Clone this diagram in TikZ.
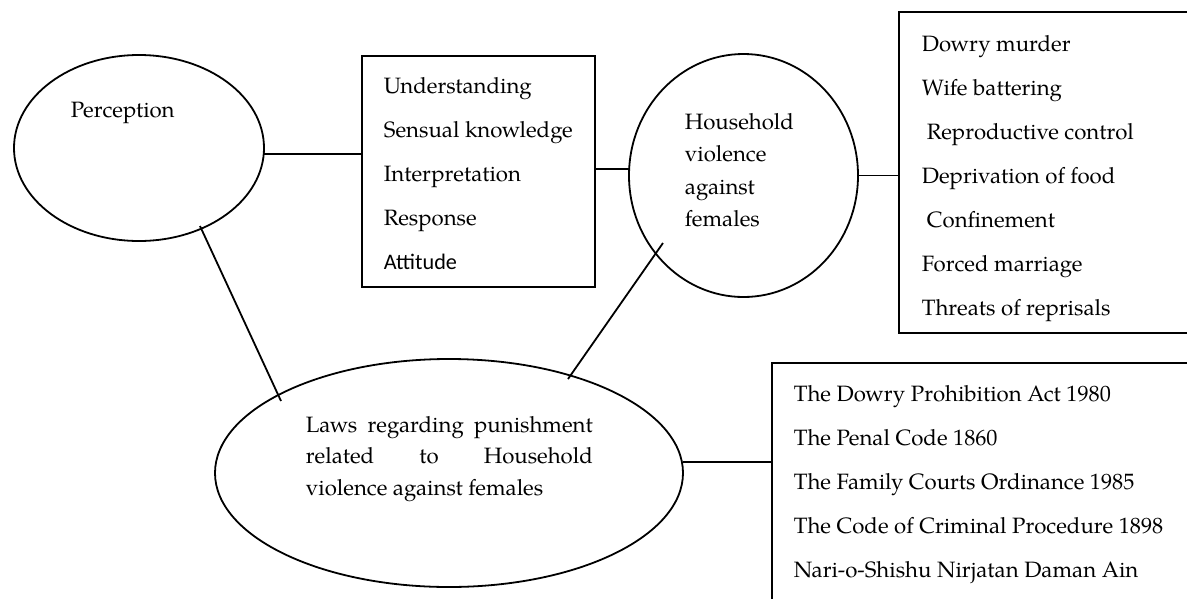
\documentclass[tikz,border=0pt]{standalone}
\usepackage{fontspec}
\setmainfont{TeX Gyre Pagella}
\newfontfamily\attfont{Carlito}
\usetikzlibrary{shapes.geometric,calc}
\begin{document}
\begin{tikzpicture}[x=1pt,y=-1pt, line width=1.8pt,
  ell/.style={draw, ellipse, inner sep=0pt, outer sep=0pt},
  bx/.style={draw, rectangle, inner sep=0pt, outer sep=0pt, anchor=north west},
  txt/.style={anchor=base west, inner sep=0pt, font=\fontsize{22.2}{27}\selectfont}]
\clip (0,0) rectangle (1187,598);
\fill[white] (0,0) rectangle (1187,598);
% shapes
\node[ell, minimum width=250pt, minimum height=186pt] (perc) at (139,148) {};
\node[bx, minimum width=233pt, minimum height=231pt] (box1) at (362,56) {};
\node[ell, minimum width=229pt, minimum height=243pt] (hh) at (743.5,175.5) {};
\node[bx, minimum width=320pt, minimum height=321pt] (box2) at (899,12) {};
\node[ell, minimum width=468pt, minimum height=228pt] (laws) at (449,473) {};
\node[bx, minimum width=440pt, minimum height=260pt] (box3) at (772,363) {};
% texts
\node[txt] (tperc) at (70,117) {Perception};
\node[txt] (u1) at (383,93) {Understanding};
\node[txt] (u2) at (383,137) {Sensual knowledge};
\node[txt] (u3) at (383,181) {Interpretation};
\node[txt] (u4) at (383,225) {Response};
\node[txt] (u5) at (383,269) {\attfont Attitude};
\node[txt] (h1) at (684,129) {Household};
\node[txt] (h2) at (684,161.5) {violence};
\node[txt] (h3) at (684,194) {against};
\node[txt] (h4) at (684,226.5) {females};
\node[txt] (v1) at (921,51) {Dowry murder};
\node[txt] (v2) at (921,95) {Wife battering};
\node[txt] (v3) at (926,139) {Reproductive control};
\node[txt] (v4) at (921,183) {Deprivation of food};
\node[txt] (v5) at (926,227) {Confinement};
\node[txt] (v6) at (921,271) {Forced marriage};
\node[txt] (v7) at (921,315) {Threats of reprisals};
\node[txt] (l1) at (305,432) {\makebox[287pt][s]{Laws\hfill regarding\hfill punishment}};
\node[txt] (l2) at (305,463.5) {\makebox[287pt][s]{related\hfill to\hfill Household}};
\node[txt] (l3) at (305,495) {violence against females};
\node[txt] (a1) at (793,401) {The Dowry Prohibition Act 1980};
\node[txt] (a2) at (793,445) {The Penal Code 1860};
\node[txt] (a3) at (793,489) {The Family Courts Ordinance 1985};
\node[txt] (a4) at (793,533) {The Code of Criminal Procedure 1898};
\node[txt] (a5) at (793,577) {Nari-o-Shishu Nirjatan Daman Ain};
% connectors
\draw ([yshift=-6pt]perc.east) -- ([yshift=-6pt]perc.east -| box1.west);
\draw ([yshift=6.5pt]hh.west) -- ([yshift=6.5pt]hh.west -| box1.east);
\draw (hh.east) -- (hh.east -| box2.west);
\draw ([yshift=11pt]laws.east) -- ([yshift=11pt]laws.east -| box3.west);
\draw ($(perc.center)+(61,78)$) -- ($(laws.center)+(-168,-72)$);
\draw ($(hh.center)+(-80.5,67.5)$) -- ($(laws.center)+(119,-94)$);
\end{tikzpicture}
\end{document}
